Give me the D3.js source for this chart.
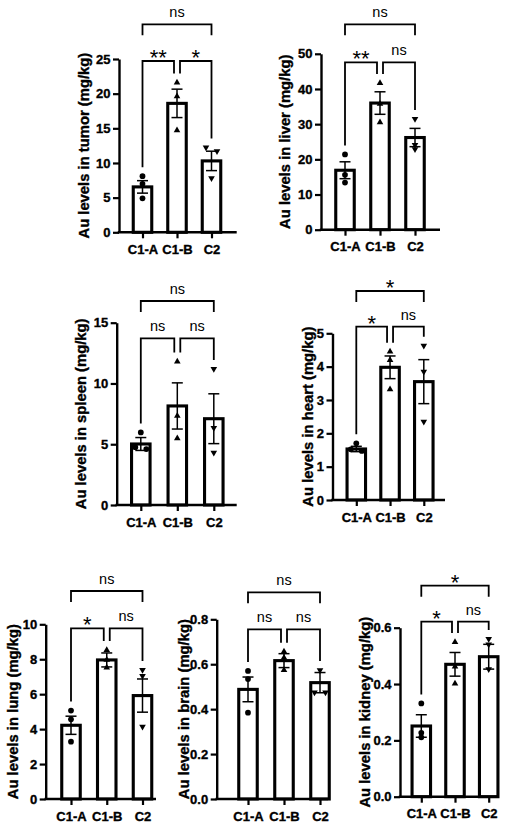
<!DOCTYPE html>
<html>
<head>
<meta charset="utf-8">
<script src="https://cdn.jsdelivr.net/npm/d3@7"></script>
<style>
  body { margin: 0; background: #fff; }
  svg { display: block; font-family: "Liberation Sans", Arial, sans-serif; }
  .bold { stroke: #000; stroke-width: 0.35px; }
</style>
</head>
<body>
<svg width="518" height="828"></svg>
<script>
const groups = ["C1-A", "C1-B", "C2"];
// significance order: C1-A vs C1-B, C1-B vs C2, C1-A vs C2

const tumorMean = [6.55, 18.6, 10.3];
const tumorSem = [0.9, 2.05, 1.4];
const tumorPoints = [[8.1, 7.0, 4.9], [21.6, 19.6, 14.7], [12.25, 11.7, 7.8]];
const tumorTicks = [0, 5, 10, 15, 20, 25];
const tumorSig = ["**", "*", "ns"];

const liverMean = [16.9, 36.0, 26.2];
const liverSem = [2.4, 3.2, 2.6];
const liverPoints = [[21.4, 15.6, 13.4], [41.7, 35.8, 30.5], [31.5, 24.1, 22.9]];
const liverTicks = [0, 10, 20, 30, 40, 50];
const liverSig = ["**", "ns", "ns"];

const spleenMean = [5.02, 8.15, 7.1];
const spleenSem = [0.53, 1.9, 2.05];
const spleenPoints = [[5.97, 4.6, 4.76], [11.8, 7.33, 5.48], [11.2, 6.35, 4.3]];
const spleenTicks = [0, 5, 10, 15];
const spleenSig = ["ns", "ns", "ns"];

const heartMean = [1.53, 3.98, 3.55];
const heartSem = [0.08, 0.34, 0.66];
const heartPoints = [[1.7, 1.47, 1.52], [4.45, 4.2, 3.32], [4.63, 3.85, 2.35]];
const heartTicks = [0, 1, 2, 3, 4, 5];
const heartSig = ["*", "ns", "*"];

const lungMean = [4.22, 7.96, 5.92];
const lungSem = [0.52, 0.4, 0.95];
const lungPoints = [[5.06, 4.56, 3.28], [8.53, 7.96, 7.52], [7.39, 7.04, 4.14]];
const lungTicks = [0, 2, 4, 6, 8, 10];
const lungSig = ["*", "ns", "ns"];

const brainMean = [0.488, 0.616, 0.518];
const brainSem = [0.055, 0.031, 0.045];
const brainPoints = [[0.570, 0.534, 0.384], [0.656, 0.629, 0.574], [0.574, 0.475, 0.475]];
const brainTicks = [0, 0.2, 0.4, 0.6, 0.8];
const brainSig = ["ns", "ns", "ns"];

const kidneyMean = [0.251, 0.470, 0.497];
const kidneySem = [0.04, 0.042, 0.044];
const kidneyPoints = [[0.331, 0.227, 0.211], [0.549, 0.462, 0.402], [0.560, 0.541, 0.453]];
const kidneyTicks = [0, 0.2, 0.4, 0.6];
const kidneySig = ["*", "ns", "*"];

const svg = d3.select("svg");
const intFmt = d3.format("d");
const decFmt = d3.format(".1f");

function drawPanel(organ, mean, sem, points, ticks, sig, fmt, L) {
  const g = svg.append("g");
  const y = d3.scaleLinear().domain([0, d3.max(ticks)]).range([L.y0, L.yTop]);
  const x = d3.scalePoint().domain(groups).range(L.bars);
  const barW = 18.5;

  // bars
  g.selectAll("rect.bar").data(mean).join("rect")
    .attr("class", "bar")
    .attr("x", (d, i) => x(groups[i]) - barW / 2)
    .attr("y", d => y(d))
    .attr("width", barW)
    .attr("height", d => y(0) - y(d))
    .attr("fill", "#fff")
    .attr("stroke", "#000")
    .attr("stroke-width", 3.1);

  // error bars (mean +/- SEM)
  const cap = 5.5;
  const err = g.selectAll("g.err").data(mean).join("g").attr("class", "err")
    .attr("stroke", "#000").attr("stroke-width", 1.5);
  err.append("line")
    .attr("x1", (d, i) => x(groups[i])).attr("x2", (d, i) => x(groups[i]))
    .attr("y1", (d, i) => y(d - sem[i])).attr("y2", (d, i) => y(d + sem[i]));
  err.append("line")
    .attr("x1", (d, i) => x(groups[i]) - cap).attr("x2", (d, i) => x(groups[i]) + cap)
    .attr("y1", (d, i) => y(d + sem[i])).attr("y2", (d, i) => y(d + sem[i]));
  err.append("line")
    .attr("x1", (d, i) => x(groups[i]) - cap).attr("x2", (d, i) => x(groups[i]) + cap)
    .attr("y1", (d, i) => y(d - sem[i])).attr("y2", (d, i) => y(d - sem[i]));

  // individual points, spread sideways when they overlap
  const symbols = [
    d3.symbol().type(d3.symbolCircle).size(26),
    d3.symbol().type(d3.symbolTriangle).size(19),
    d3.symbol().type(d3.symbolTriangle).size(19)
  ];
  points.forEach((vals, i) => {
    const pts = vals.map(v => ({ v: v, py: y(v), dx: 0 })).sort((a, b) => a.py - b.py);
    let clusters = [], cur = [pts[0]];
    for (let k = 1; k < pts.length; k++) {
      if (pts[k].py - cur[cur.length - 1].py < 4) cur.push(pts[k]);
      else { clusters.push(cur); cur = [pts[k]]; }
    }
    clusters.push(cur);
    clusters.forEach(c => c.forEach((p, j) => { p.dx = (j - (c.length - 1) / 2) * 11; }));
    g.selectAll(null).data(pts).join("path")
      .attr("d", symbols[i])
      .attr("fill", "#000")
      .attr("transform", p => "translate(" + (x(groups[i]) + p.dx) + "," + p.py + ")" + (i === 2 ? " rotate(180)" : ""));
  });

  // y axis
  const ya = g.append("g")
    .attr("transform", "translate(" + L.axisX + ",0)")
    .call(d3.axisLeft(y).tickValues(ticks).tickFormat(fmt).tickSize(6).tickSizeOuter(0).tickPadding(2.5));
  ya.select(".domain").attr("stroke-width", 2.4);
  ya.selectAll(".tick line").attr("stroke-width", 2.2);
  ya.selectAll("text").attr("font-size", 13).attr("font-weight", "bold").attr("class", "bold")
    .attr("font-family", "Liberation Sans, Arial, sans-serif").attr("fill", "#000");

  // x axis
  g.append("line")
    .attr("x1", L.axisX - 1.2).attr("x2", L.xEnd)
    .attr("y1", L.y0).attr("y2", L.y0)
    .attr("stroke", "#000").attr("stroke-width", 2.4);
  const xa = g.append("g")
    .attr("transform", "translate(0," + L.y0 + ")")
    .call(d3.axisBottom(x).tickSize(6).tickSizeOuter(0).tickPadding(6.5));
  xa.select(".domain").remove();
  xa.selectAll(".tick line").attr("stroke-width", 2.2);
  xa.selectAll("text").attr("font-size", 13).attr("font-weight", "bold").attr("class", "bold")
    .attr("font-family", "Liberation Sans, Arial, sans-serif").attr("fill", "#000");

  // axis title
  g.append("text")
    .attr("class", "bold")
    .attr("transform", "translate(" + L.titleX + "," + ((L.y0 + L.yTop) / 2) + ") rotate(-90)")
    .attr("text-anchor", "middle")
    .attr("dominant-baseline", "central")
    .attr("font-size", 14.8)
    .attr("font-weight", "bold")
    .text("Au levels in " + organ + " (mg/kg)");

  // significance brackets
  const topOf = i => Math.min(y(d3.max(points[i])), y(mean[i] + sem[i]));
  const legEnd = (i, by) => Math.max(by + 6, topOf(i) - 9);
  const xs = groups.map(gr => x(gr));
  const brackets = [
    { x1: xs[0], x2: xs[1] - 3, by: L.brLow, e1: legEnd(0, L.brLow), e2: legEnd(1, L.brLow), label: sig[0] },
    { x1: xs[1] + 3, x2: xs[2], by: L.brLow, e1: legEnd(1, L.brLow), e2: legEnd(2, L.brLow), label: sig[1] },
    { x1: xs[0], x2: xs[2], by: L.brTop, e1: L.brTop + 11, e2: L.brTop + 11, label: sig[2] }
  ];
  g.selectAll("path.br").data(brackets).join("path")
    .attr("class", "br")
    .attr("d", b => "M" + b.x1 + "," + b.e1 + "V" + b.by + "H" + b.x2 + "V" + b.e2)
    .attr("fill", "none")
    .attr("stroke", "#000")
    .attr("stroke-width", 1.8);
  g.selectAll("text.sig").data(brackets).join("text")
    .attr("class", "sig")
    .attr("x", b => (b.x1 + b.x2) / 2)
    .attr("y", b => b.label === "ns" ? b.by - 7 : b.by + 4)
    .attr("text-anchor", "middle")
    .attr("font-size", b => b.label === "ns" ? 14.5 : 22)
    .text(b => b.label);
}

drawPanel("tumor", tumorMean, tumorSem, tumorPoints, tumorTicks, tumorSig, intFmt,
  { axisX: 119, xEnd: 236.7, y0: 232.3, yTop: 59, bars: [142.5, 211.5], titleX: 83.7, brLow: 61, brTop: 24.3 });
drawPanel("liver", liverMean, liverSem, liverPoints, liverTicks, liverSig, intFmt,
  { axisX: 321, xEnd: 440, y0: 229.7, yTop: 53.8, bars: [345, 415], titleX: 285, brLow: 62.3, brTop: 24.3 });
drawPanel("spleen", spleenMean, spleenSem, spleenPoints, spleenTicks, spleenSig, intFmt,
  { axisX: 116.7, xEnd: 236.7, y0: 505, yTop: 322.7, bars: [140.8, 213.8], titleX: 81, brLow: 338.3, brTop: 301 });
drawPanel("heart", heartMean, heartSem, heartPoints, heartTicks, heartSig, intFmt,
  { axisX: 332.5, xEnd: 445, y0: 500, yTop: 333.3, bars: [356.3, 423.8], titleX: 307.5, brLow: 326.7, brTop: 291 });
drawPanel("lung", lungMean, lungSem, lungPoints, lungTicks, lungSig, intFmt,
  { axisX: 45.7, xEnd: 156, y0: 799, yTop: 624.3, bars: [71, 142.5], titleX: 13, brLow: 628.3, brTop: 591 });
drawPanel("brain", brainMean, brainSem, brainPoints, brainTicks, brainSig, decFmt,
  { axisX: 216.7, xEnd: 328, y0: 799, yTop: 619.3, bars: [248, 320], titleX: 184, brLow: 629.3, brTop: 592.3 });
drawPanel("kidney", kidneyMean, kidneySem, kidneyPoints, kidneyTicks, kidneySig, decFmt,
  { axisX: 400, xEnd: 497, y0: 796.7, yTop: 627.7, bars: [421.3, 488.7], titleX: 365, brLow: 621.7, brTop: 585.7 });
</script>
</body>
</html>
